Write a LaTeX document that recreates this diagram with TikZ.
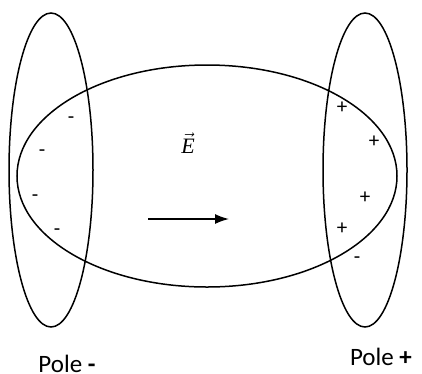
\documentclass[tikz,border=0pt]{standalone}
\usepackage{fix-cm}
\usepackage{fontspec}
\setmainfont{Carlito}
\newfontfamily\efont{Liberation Serif}
\usetikzlibrary{arrows.meta}
\tikzset{sign/.style={inner sep=0pt,font=\fontsize{21}{21}\selectfont}}
\begin{document}
\begin{tikzpicture}[x=1pt,y=-1pt,line width=1.5pt]
\useasboundingbox (0,0) rectangle (422,373);
\draw (51,170) ellipse (42 and 157); \draw (365,170) ellipse (42 and 157);
\draw (207,176) ellipse (190 and 111);
\foreach \n/\x/\y in {a/71/120,b/42/153,c/35/198,d/57/232,e/357/260} { \node[sign] (m\n) at (\x,\y) {-}; }
\foreach \n/\x/\y in {a/342/108,b/374/142,c/365/198,d/342/229} { \node[sign] (p\n) at (\x,\y) {+}; }
\node[font=\fontsize{22}{22}\selectfont] (field) at (188,143) {$\vec{\mbox{\efont\itshape E}}$};
\coordinate (tail) at (148,219); \coordinate (head) at (229,219);
\draw[-{Latex[length=14pt,width=10pt]}] (tail) -- (head);
\node[font=\fontsize{25}{25}\selectfont] (neg) at (67,364) {Pole \textbf{-}};
\node[font=\fontsize{25}{25}\selectfont] (pos) at (381,357) {Pole \textbf{+}};
\end{tikzpicture}
\end{document}
